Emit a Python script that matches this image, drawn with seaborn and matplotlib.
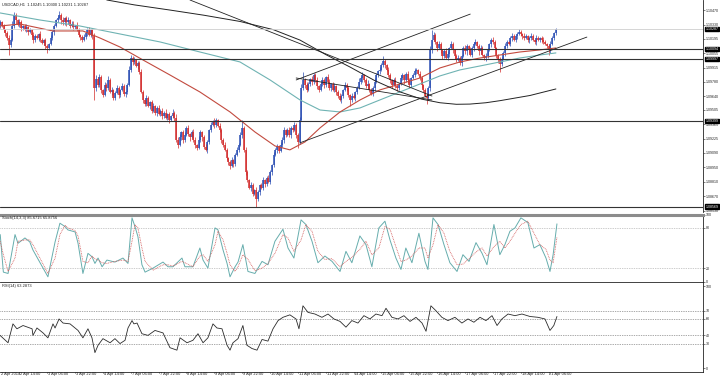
"""USDCAD H1 chart (MT4 style): candles, MAs, trendlines, Stoch(14,3,3) and RSI(14)."""
import matplotlib; matplotlib.use("Agg")
import numpy as np
import pandas as pd
import matplotlib.pyplot as plt
import matplotlib.transforms as mtrans
import seaborn as sns

sns.set_style("white")
plt.rcParams["font.family"] = ["Liberation Sans", "DejaVu Sans"]

# ---- data (prices in points of 0.0001 above 1.08000) ----
header_main = "USDCAD,H1  1.10245 1.10300 1.10231 1.10287"
header_stoch = "Stoch(14,3,3) 85.6715 65.8756"
header_rsi = "RSI(14) 63.2873"

open_first = 236
close_pts = [
    234, 236, 233, 235, 232, 228, 225, 220, 213, 218,
    232, 242, 237, 233, 235, 230, 232, 228, 231, 226,
    228, 223, 218, 222, 220, 224, 218, 215, 218, 212,
    210, 214, 220, 226, 232, 237, 239, 242, 237, 235,
    239, 235, 237, 232, 234, 231, 232, 228, 223, 221,
    218, 221, 225, 228, 223, 228, 222, 172, 180, 175,
    182, 170, 165, 175, 172, 179, 168, 170, 162, 167,
    172, 165, 170, 174, 166, 168, 175, 189, 201, 197,
    199, 193, 196, 187, 168, 160, 156, 162, 154, 158,
    150, 154, 148, 152, 147, 150, 145, 148, 143, 147,
    141, 145, 148, 143, 122, 117, 124, 129, 122, 126,
    133, 127, 124, 129, 122, 117, 114, 122, 129, 124,
    115, 112, 120, 131, 136, 139, 136, 141, 135, 131,
    122, 117, 112, 104, 100, 96, 102, 98, 107, 112,
    117, 126, 133, 112, 91, 83, 75, 78, 69, 73,
    65, 71, 78, 75, 83, 79, 85, 81, 91, 97,
    107, 112, 116, 111, 117, 122, 131, 126, 131, 126,
    133, 131, 136, 126, 120, 141, 172, 179, 175, 170,
    176, 180, 178, 184, 179, 174, 170, 176, 179, 175,
    182, 178, 172, 176, 170, 174, 168, 164, 160, 164,
    170, 175, 172, 165, 160, 164, 162, 168, 172, 178,
    181, 184, 179, 174, 176, 170, 166, 172, 178, 184,
    188, 189, 194, 198, 194, 189, 184, 179, 175, 179,
    174, 172, 176, 181, 184, 179, 185, 179, 175, 181,
    184, 188, 189, 185, 181, 175, 170, 164, 162, 172,
    208, 218, 223, 216, 210, 214, 208, 203, 207, 201,
    205, 210, 214, 208, 203, 199, 201, 196, 203, 210,
    207, 212, 208, 204, 210, 214, 216, 212, 207, 210,
    204, 201, 203, 208, 214, 218, 216, 210, 203, 199,
    195, 200, 206, 212, 216, 214, 220, 222, 218, 222,
    224, 226, 224, 222, 220, 222, 218, 220, 222, 218,
    216, 220, 218, 220, 218, 216, 214, 212, 208, 214,
    220, 224.5, 228.7,
]
up_wick = [
    2, 1, 3, 2, 1, 2, 1, 2, 3, 2, 4, 3, 2, 1, 3, 2, 1, 2, 3, 1,
    2, 1, 3, 2, 2, 1, 3, 2, 1, 2, 2, 1, 3, 2, 2, 1, 2, 4, 2, 3,
    1, 2, 3, 1, 2, 2, 1, 3, 2, 1, 2, 3, 1, 2, 3, 1, 2, 3, 4, 2,
    3, 2, 1, 3, 2, 4, 2, 3, 1, 2, 3, 2, 1, 3, 2, 1, 2, 4, 3, 2,
    3, 1, 2, 2, 3, 2, 1, 3, 2, 1, 2, 3, 1, 2, 3, 1, 2, 2, 3, 1,
    2, 1, 3, 2, 4, 2, 3, 1, 2, 3, 2, 3, 1, 2, 3, 2, 1, 3, 2, 1,
    2, 3, 2, 1, 3, 2, 4, 2, 1, 3, 2, 1, 3, 2, 1, 2, 3, 1, 2, 3,
    2, 3, 8, 2, 3, 2, 1, 3, 2, 1, 3, 2, 1, 2, 3, 1, 2, 3, 2, 1,
    3, 2, 2, 1, 3, 2, 3, 1, 2, 3, 2, 1, 3, 2, 2, 3, 4, 8, 2, 3,
    2, 1, 3, 2, 2, 3, 1, 2, 3, 2, 1, 3, 2, 1, 2, 3, 1, 2, 3, 2,
    1, 3, 2, 2, 1, 3, 2, 1, 2, 3, 2, 3, 1, 2, 3, 1, 2, 2, 3, 2,
    1, 3, 2, 5, 2, 1, 3, 2, 1, 2, 3, 2, 1, 3, 2, 1, 2, 3, 2, 1,
    2, 3, 2, 1, 3, 2, 1, 2, 3, 2, 4, 10, 3, 2, 1, 3, 2, 1, 2, 3,
    2, 1, 3, 2, 1, 2, 3, 2, 1, 2, 3, 2, 1, 3, 2, 2, 3, 1, 2, 3,
    2, 1, 3, 2, 1, 2, 3, 2, 1, 2, 3, 2, 1, 3, 2, 1, 2, 3, 2, 1,
    2, 3, 2, 1, 3, 2, 1, 2, 3, 2, 1, 3, 2, 1, 2, 3, 2, 1, 2, 3,
    2, 1, 1.3,
]
dn_wick = [
    1, 2, 2, 3, 1, 2, 3, 2, 9, 2, 1, 2, 3, 1, 2, 3, 2, 1, 2, 3,
    1, 2, 3, 2, 1, 3, 2, 1, 2, 3, 4, 2, 1, 2, 3, 1, 2, 1, 3, 2,
    2, 3, 1, 2, 1, 3, 2, 1, 2, 3, 2, 1, 2, 3, 1, 2, 3, 12, 3, 2,
    2, 3, 2, 1, 3, 2, 1, 3, 2, 2, 1, 3, 2, 1, 2, 3, 2, 1, 2, 3,
    2, 1, 3, 2, 1, 3, 2, 2, 1, 3, 2, 1, 2, 3, 1, 2, 3, 2, 1, 2,
    3, 1, 2, 3, 2, 3, 1, 2, 3, 2, 1, 2, 3, 1, 2, 3, 2, 1, 2, 3,
    2, 1, 3, 2, 2, 1, 3, 2, 1, 2, 3, 2, 1, 2, 3, 2, 1, 3, 2, 1,
    2, 1, 3, 2, 3, 2, 1, 3, 2, 1, 8, 2, 3, 1, 2, 3, 2, 1, 2, 3,
    2, 1, 3, 2, 1, 2, 3, 2, 1, 2, 3, 2, 1, 3, 6, 2, 1, 2, 3, 2,
    1, 2, 3, 2, 1, 3, 2, 1, 2, 3, 2, 1, 2, 3, 1, 2, 3, 2, 1, 3,
    2, 1, 3, 2, 6, 2, 1, 3, 2, 1, 2, 3, 1, 2, 3, 2, 1, 2, 3, 1,
    2, 3, 1, 2, 3, 1, 2, 2, 3, 1, 2, 3, 2, 1, 2, 3, 1, 2, 3, 2,
    1, 2, 3, 1, 2, 3, 2, 1, 6, 2, 3, 2, 1, 2, 3, 1, 2, 3, 2, 1,
    2, 3, 1, 2, 3, 2, 1, 2, 3, 1, 2, 3, 2, 1, 2, 3, 1, 2, 3, 2,
    1, 2, 3, 2, 1, 3, 2, 1, 2, 3, 8, 2, 1, 3, 2, 1, 2, 3, 1, 2,
    3, 1, 2, 3, 2, 1, 2, 3, 2, 1, 2, 3, 1, 2, 3, 2, 1, 2, 4, 2,
    1, 2, 1.4,
]

# moving averages, read at anchor bars
ma_red_bar = [2.9, 14.4, 33.3, 50.5, 60.3, 71.8, 85, 100.5, 117.7, 135, 149.3, 160.8, 169.4,
              178.1, 186.7, 198.2, 209.7, 221.1, 232.6, 244.1, 255.6, 267.1, 278.6, 290.1,
              301.5, 313, 322.2]
ma_red_pts = [231.6, 233.5, 226.8, 226.8, 220.0, 211.3, 198.8, 184.3, 167.9, 148.6, 129.3,
              115.8, 112.0, 119.7, 133.2, 148.6, 160.2, 169.9, 175.6, 181.4, 191.1, 196.9,
              200.7, 203.6, 206.5, 208.5, 210.4]
ma_teal_bar = [2.9, 25.8, 48.8, 71.8, 94.8, 117.7, 140.7, 158, 175.2, 186.7, 198.2, 209.7,
               221.1, 232.6, 244.1, 255.6, 267.1, 278.6, 290.1, 301.5, 313, 322.2]
ma_teal_pts = [244.2, 237.4, 231.6, 223.9, 216.2, 206.5, 196.9, 179.5, 160.2, 150.5, 148.6,
               152.5, 160.2, 167.9, 175.6, 183.4, 189.2, 193.0, 196.9, 200.7, 203.6, 205.6]
ma_black_bar = [60.3, 64.3, 80, 100.5, 120, 140.7, 160, 175.2, 190, 203.9, 218, 232.6, 245,
                255.6, 265, 272.8, 282, 290.1, 307.3, 322.2]
ma_black_pts = [261.5, 256.7, 252, 247, 242, 236, 228, 218, 204, 192, 179, 168, 161,
                157.5, 156, 156.2, 157.5, 159.5, 164.5, 170.8]

# drawn trendlines: (bar0, pts0, bar1, pts1)
trendlines = [(112, 256.7, 251, 164.0), (173, 181.4, 251, 160.2),
              (173, 179.5, 273, 243.1), (175, 118.7, 340, 220.9)]
hlines = [1.10094, 1.09997, 1.09399, 1.08569]
bid = 1.10287
price_ticks = [1.10470, 1.10330, 1.10195, 1.10055, 1.09915, 1.09780, 1.09640, 1.09505,
               1.09365, 1.09225, 1.09090, 1.08950, 1.08810, 1.08670, 1.08530]

stoch_bar = [3, 4.8, 7.5, 11.5, 13.2, 17.2, 20, 21.8, 30.4, 34.5, 37.3, 40.2, 41.9, 46, 47.7,
             50.5, 53.4, 55.7, 57.4, 59.2, 61.5, 64.3, 68.9, 73.5, 76.4, 78.7, 80.4, 82.1,
             84.4, 86.2, 90.8, 96.5, 99.4, 102.2, 107.4, 109.1, 113.7, 117.7, 119.5, 122.3,
             126.4, 128.1, 131, 133.3, 135, 137.9, 139.6, 142.4, 145.3, 149.3, 153.4, 156.8,
             160.8, 165.4, 168.3, 171.7, 175.8, 178.6, 182.1, 185.5, 189.5, 193.6, 198.2,
             201.6, 205, 209.6, 213.1, 216.5, 220.5, 224, 226.9, 230.3, 233.2, 236, 239.5,
             243.5, 247, 248.7, 251.6, 254.5, 257.9, 261.3, 265.4, 268.8, 272.3, 276.3,
             279.8, 282.6, 286.6, 290, 292.9, 295.8, 298.7, 302.1, 306.1, 309.6, 313, 316.5,
             318.8, 320.6, 322.8]
stoch_k = [70, 14, 12, 70, 57, 65, 59, 47, 7, 59, 87, 82, 77, 74, 57,
           12, 42, 37, 27, 35, 22, 32, 29, 35, 27, 95, 82, 67,
           25, 14, 20, 29, 22, 22, 35, 22, 22, 50, 32, 20,
           80, 77, 47, 27, 7, 22, 29, 55, 15, 12, 30, 25,
           60, 78, 50, 35, 92, 85, 60, 28, 38, 30, 15,
           45, 28, 68, 55, 22, 80, 90, 62, 35, 18, 50, 28,
           72, 30, 18, 95, 85, 55, 28, 15, 40, 30, 58,
           42, 25, 85, 40, 55, 75, 80, 95, 88, 50, 55, 35,
           15, 40, 86]
stoch_d = [60, 40, 15, 35, 60, 62, 62, 55, 12, 35, 70, 84, 80, 76, 68,
           30, 28, 38, 34, 32, 28, 27, 30, 32, 30, 60, 85, 80,
           50, 30, 17, 25, 25, 23, 30, 28, 22, 38, 40, 30,
           55, 75, 62, 42, 25, 15, 22, 40, 33, 16, 20, 27,
           42, 70, 65, 45, 62, 85, 75, 45, 33, 34, 22,
           30, 36, 48, 60, 40, 50, 82, 78, 52, 30, 32, 38,
           50, 50, 35, 55, 85, 72, 45, 25, 26, 34, 44,
           50, 38, 52, 60, 50, 60, 72, 85, 90, 72, 55, 48,
           32, 28, 66]
stoch_levels = [80, 20]

rsi_bar = [2.9, 7.5, 10.3, 12.6, 16.1, 21.3, 21.8, 24.1, 27.6, 30.4, 33.3, 34.5, 36.8, 39.1,
           43.1, 47.7, 50.5, 53.4, 55.7, 57.4, 59.2, 62, 66.1, 68.9, 71.8, 74.7, 76.4, 78.7,
           79.8, 81.6, 84.4, 87.9, 91.9, 96.5, 100.5, 104.5, 106.3, 110.3, 113.7, 116.6,
           119.5, 122.3, 125.2, 127.5, 130.4, 133.3, 135, 136.7, 139.6, 142.4, 144.7, 147.6,
           150.5, 153.4, 156.8, 159.7, 162.6, 165.4, 169.4, 172.9, 174.6, 176.9, 179.8,
           183.8, 187.8, 191.3, 194.7, 198.2, 201.6, 205, 208.5, 211.9, 215.4, 218.8, 222.3,
           224.6, 228, 231.5, 234.9, 238.4, 241.8, 245.3, 247.6, 250.4, 253.3, 256.7, 260.2,
           264.2, 268.2, 271.7, 275.1, 278.6, 282, 285.5, 288.4, 291.2, 294.7, 298.7, 302.7,
           307.3, 311.9, 315.9, 318.8, 321, 322.8]
rsi_val = [40, 31, 54, 48, 52, 48, 40, 49, 43, 37, 54, 49, 60, 55,
           54, 46, 37, 48, 37, 19, 28, 36, 31, 36, 30, 34, 49, 58,
           54, 55, 42, 40, 46, 43, 25, 22, 37, 31, 34, 42,
           31, 37, 54, 49, 48, 28, 22, 31, 36, 52, 28, 24,
           22, 35, 33, 48, 58, 62, 65, 60, 48, 76, 68,
           66, 62, 66, 60, 57, 50, 58, 55, 64, 60, 66, 64,
           73, 62, 60, 64, 57, 62, 55, 45, 76, 70, 62, 58,
           62, 55, 60, 56, 62, 58, 64, 52, 60, 66, 64, 66,
           63, 62, 60, 46, 52, 63]
rsi_levels = [70, 60, 40, 30]

# ---- derived series ----
n = len(close_pts)
c = np.array(close_pts, float)
o = np.concatenate([[open_first], c[:-1]])
hi = np.maximum(o, c) + np.array(up_wick)
lo = np.minimum(o, c) - np.array(dn_wick)
to_px = lambda p: 1.08 + np.asarray(p, float) * 1e-4
bars = np.arange(n)

hours = pd.date_range("2014-04-02 00:00", "2014-04-22 23:00", freq="h")
hours = hours[hours.dayofweek < 5][:n]
lab_bars = list(range(14, n, 16))
lab_text = [f"{hours[b].day} {hours[b]:%b %H:%M}" for b in lab_bars]

# ---- figure ----
W, H = 720, 378
fig = plt.figure(figsize=(7.2, 3.78), dpi=100)
fig.patch.set_facecolor("white")
axr = 703 / W
ax = fig.add_axes([0, 1 - 212 / H, axr, 212 / H])
axs = fig.add_axes([0, 1 - 281.5 / H, axr, 67 / H])
axi = fig.add_axes([0, 1 - 371.5 / H, axr, 89.5 / H])
XL = (2.87, 406.7)
fs = 2.6
dark = "#222222"

for a in (ax, axs, axi):
    a.set_xlim(*XL)
    a.set_facecolor("white")
    for s in ("left", "top", "bottom"):
        a.spines[s].set_visible(False)
    a.spines["right"].set_color(dark)
    a.spines["right"].set_linewidth(0.6)
    a.yaxis.tick_right()
    a.tick_params(axis="y", labelsize=fs, length=1.5, width=0.4, pad=0.6, colors=dark)
    a.set_xticks([])
    a.set_xlabel(""); a.set_ylabel("")

# candles
bull, bear = "#2a4db3", "#d22b2b"
up = c >= o
for m, col in ((up, bull), (~up, bear)):
    ax.vlines(bars[m], to_px(lo[m]), to_px(hi[m]), color=col, lw=0.5)
    ax.vlines(bars[m], to_px(np.minimum(o, c)[m]), to_px(np.maximum(o, c)[m]), color=col, lw=1.1)

sns.lineplot(x=ma_teal_bar, y=to_px(ma_teal_pts), ax=ax, color="#6fb3b3", lw=0.8)
sns.lineplot(x=ma_red_bar, y=to_px(ma_red_pts), ax=ax, color="#c24a3e", lw=0.8)
sns.lineplot(x=ma_black_bar, y=to_px(ma_black_pts), ax=ax, color=dark, lw=0.7)
for b0, p0, b1, p1 in trendlines:
    ax.plot([b0, b1], to_px([p0, p1]), color=dark, lw=0.6)
for h in hlines:
    ax.axhline(h, color="#333333", lw=0.8)
ax.axhline(bid, color="#cfcfcf", lw=0.6)

ax.set_ylim(1.08520, 1.10567)
ax.set_yticks(price_ticks)
ax.set_yticklabels([f"{t:.5f}" for t in price_ticks])
tr = mtrans.blended_transform_factory(ax.transAxes, ax.transData)
for p in hlines + [bid]:
    ax.text(1.004, p, f"{p:.5f}", transform=tr, fontsize=fs, color="white", va="center",
            ha="left", bbox=dict(boxstyle="square,pad=0.12", fc="black", ec="black"))
ax.set_xlabel(""); ax.set_ylabel("")
fig.text(0.003, 1 - 5 / H, header_main, fontsize=fs + 0.3, color=dark, va="center")

# stochastic
for lv in stoch_levels:
    axs.axhline(lv, color="#9a9a9a", lw=0.5, ls=(0, (1, 1.5)))
sns.lineplot(x=stoch_bar, y=stoch_k, ax=axs, color="#66adad", lw=0.7)
sns.lineplot(x=stoch_bar, y=stoch_d, ax=axs, color="#d25a5a", lw=0.6, ls=(0, (1, 1)))
axs.set_ylim(0, 100)
axs.set_yticks([100, 80, 20, 0])
axs.spines["top"].set_visible(True)
axs.spines["top"].set_color("#8c8c8c")
axs.spines["top"].set_linewidth(2.2)
axs.text(0.003, 0.955, header_stoch, transform=axs.transAxes, fontsize=fs + 0.3, color=dark,
         va="center")
axs.set_xlabel(""); axs.set_ylabel("")

# RSI
for lv in rsi_levels:
    axi.axhline(lv, color="#555555", lw=0.5, ls=(0, (1, 1.5)))
sns.lineplot(x=rsi_bar, y=rsi_val, ax=axi, color="#2b2b2b", lw=0.6)
axi.set_ylim(-4, 105)
axi.set_yticks([100, 70, 60, 40, 30, 0])
for s in ("top", "bottom"):
    axi.spines[s].set_visible(True)
    axi.spines[s].set_color(dark)
    axi.spines[s].set_linewidth(0.6)
axi.text(0.003, 0.955, header_rsi, transform=axi.transAxes, fontsize=fs + 0.3, color=dark,
         va="center")
axi.set_xlabel(""); axi.set_ylabel("")
xtr = axi.get_xaxis_transform()
# first date label starts at the left edge of the chart
axi.text(0.001, -0.028, "2 Apr 2014", transform=axi.transAxes, fontsize=fs + 0.3, color=dark,
         ha="left", va="center", clip_on=False)
for b, t in zip(lab_bars, lab_text):
    axi.text(b + 0.5, -0.028, t, transform=xtr, fontsize=fs + 0.3, color=dark, ha="left",
             va="center", clip_on=False)
    axi.plot([b, b], [0, -0.012], transform=xtr, color=dark, lw=0.4, clip_on=False)

fig.savefig("out.png", dpi=100, facecolor="white")
